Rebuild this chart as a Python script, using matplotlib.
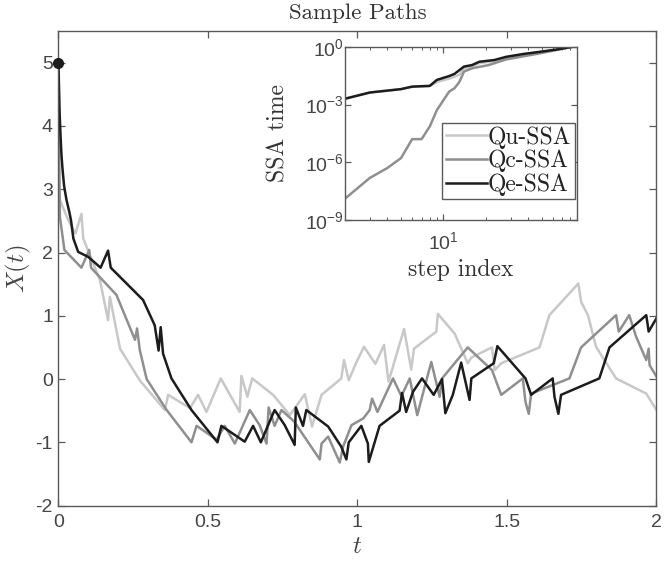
import matplotlib
matplotlib.use('Agg')
import matplotlib.pyplot as plt

plt.rcParams['font.family'] = 'Liberation Sans'
plt.rcParams['mathtext.fontset'] = 'cm'
plt.rcParams['axes.unicode_minus'] = False

# main panel: sample paths X(t)
t_qu = [0, 0.002, 0.005, 0.033, 0.057, 0.077, 0.083, 0.139, 0.166, 0.172, 0.206, 0.272,
        0.356, 0.367, 0.44, 0.467, 0.495, 0.543, 0.606, 0.612, 0.632, 0.648, 0.718, 0.774,
        0.824, 0.848, 0.88, 0.946, 0.955, 0.971, 0.995, 1.022, 1.06, 1.089, 1.104, 1.156,
        1.18, 1.189, 1.264, 1.269, 1.325, 1.369, 1.381, 1.45, 1.459, 1.481, 1.609, 1.642,
        1.739, 1.748, 1.771, 1.798, 1.865, 1.966, 2.0]
x_qu = [5.0, 3.6, 2.83, 2.51, 2.3, 2.61, 2.22, 1.56, 0.93, 1.3, 0.48, -0.02,
        -0.49, -0.25, -0.46, -0.25, -0.52, 0.01, -0.52, 0.05, -0.28, 0.01, -0.25, -0.57,
        -0.24, -0.75, -0.25, 0.01, 0.3, -0.02, 0.25, 0.51, 0.24, 0.54, -0.04, 0.79,
        0.15, 0.48, 0.75, 1.03, 0.72, 0.25, 0.34, 0.5, 0.14, 0.25, 0.5, 1.01,
        1.51, 1.22, 1.01, 0.51, 0.01, -0.23, -0.49]

t_qc = [0, 0.002, 0.005, 0.02, 0.077, 0.103, 0.109, 0.194, 0.256, 0.263, 0.272, 0.295,
        0.362, 0.445, 0.462, 0.49, 0.529, 0.556, 0.59, 0.64, 0.673, 0.696, 0.703, 0.723,
        0.746, 0.788, 0.874, 0.88, 0.902, 0.941, 0.952, 0.98, 1.02, 1.041, 1.049, 1.067,
        1.119, 1.147, 1.175, 1.2, 1.247, 1.275, 1.283, 1.369, 1.45, 1.481, 1.553, 1.562,
        1.573, 1.581, 1.709, 1.748, 1.865, 1.874, 1.909, 1.932, 1.966, 1.974, 1.977, 2.0]
x_qc = [5.0, 3.5, 2.56, 2.04, 1.76, 2.04, 1.76, 1.33, 0.62, 0.8, 0.46, 0.0,
        -0.49, -1.0, -0.74, -0.83, -0.96, -0.74, -1.02, -0.49, -0.73, -1.02, -0.45, -0.74,
        -0.49, -0.67, -1.27, -1.02, -0.91, -1.32, -1.07, -0.73, -0.62, -0.49, -0.31, -0.52,
        0.01, -0.27, 0.01, -0.57, 0.27, -0.28, 0.01, 0.5, 0.14, -0.25, 0.01, -0.36,
        -0.55, -0.23, 0.01, 0.5, 1.01, 0.75, 1.01, 0.67, 0.3, 0.48, 0.22, 0.04]

t_qe = [0, 0.002, 0.004, 0.007, 0.01, 0.014, 0.019, 0.027, 0.036, 0.042, 0.05, 0.066,
        0.10, 0.141, 0.166, 0.175,
        0.211, 0.283, 0.322, 0.335, 0.342, 0.35, 0.378, 0.445, 0.532, 0.545, 0.623, 0.651,
        0.677, 0.723, 0.757, 0.79, 0.794, 0.818, 0.829, 0.902, 0.946, 0.963, 0.971, 1.013,
        1.035, 1.038, 1.074, 1.141, 1.149, 1.163, 1.186, 1.216, 1.255, 1.283, 1.294, 1.319,
        1.347, 1.375, 1.381, 1.456, 1.468, 1.562, 1.581, 1.653, 1.659, 1.672, 1.681, 1.809,
        1.843, 1.966, 1.974, 2.0]
x_qe = [5.0, 4.6, 4.2, 3.85, 3.55, 3.3, 3.05, 2.83, 2.65, 2.51, 2.22, 2.01,
        1.93, 1.76, 2.03, 1.76,
        1.59, 1.25, 0.85, 0.45, 0.82, 0.4, 0.01, -0.49, -1.0, -0.74, -0.99, -0.74,
        -1.0, -0.49, -0.73, -1.04, -0.45, -0.74, -0.49, -0.75, -1.07, -1.27, -1.0, -0.74,
        -1.02, -1.31, -0.74, -0.5, -0.22, -0.52, -0.2, 0.01, -0.25, 0.0, -0.54, -0.25,
        0.26, -0.33, 0.01, 0.25, 0.52, 0.01, -0.25, 0.01, -0.28, -0.55, -0.25, 0.01,
        0.5, 1.01, 0.75, 0.96]

# inset: SSA time vs step index
step_qu = [2, 3, 5, 6, 8, 9, 11, 12, 13, 14, 16, 18, 23, 28, 37, 49, 64, 83]
time_qu = [2.0e-3, 4.2e-3, 6.3e-3, 8.3e-3, 9.0e-3, 1.5e-2, 2.2e-2, 2.8e-2, 3.5e-2,
           7.5e-2, 0.095, 0.14, 0.18, 0.26, 0.38, 0.52, 0.70, 1.0]
step_qc = [2, 3, 4, 5, 6, 7, 8, 9, 11, 12, 13, 14, 16, 21, 28, 49, 83]
time_qc = [1.3e-8, 1.55e-7, 5.1e-7, 1.66e-6, 1.6e-5, 1.6e-5, 7.2e-5, 5.2e-4, 4.7e-3,
           7.0e-3, 1.5e-2, 5.1e-2, 7.6e-2, 0.112, 0.22, 0.46, 1.0]
step_qe = [2, 3, 5, 6, 8, 9, 11, 12, 14, 16, 18, 23, 28, 37, 49, 64, 83]
time_qe = [2.0e-3, 4.2e-3, 6.3e-3, 8.5e-3, 9.3e-3, 1.9e-2, 3.0e-2, 3.9e-2, 9.3e-2,
           0.112, 0.166, 0.204, 0.30, 0.42, 0.55, 0.72, 1.0]

labels = ['Qu-SSA', 'Qc-SSA', 'Qe-SSA']
colors = ['#c8c8c8', '#8f8f8f', '#1c1c1c']
axcol = '#5a5a5a'
txtcol = '#454545'

fig = plt.figure(figsize=(6.64, 5.63), dpi=100)
ax = fig.add_axes([0.088, 0.102, 0.9006, 0.8428])

ax.plot(t_qu, x_qu, color=colors[0], lw=1.8)
ax.plot(t_qc, x_qc, color=colors[1], lw=1.8)
ax.plot(t_qe, x_qe, color=colors[2], lw=1.8)
ax.plot([t_qe[0]], [x_qe[0]], 'o', color=colors[2], ms=7, clip_on=False, zorder=5)

ax.set_xlim(0, 2)
ax.set_ylim(-2, 5.5)
ax.set_xticks([0, 0.5, 1, 1.5, 2])
ax.set_xticklabels(['0', '0.5', '1', '1.5', '2'])
ax.set_yticks([-2, -1, 0, 1, 2, 3, 4, 5])
for s in ax.spines.values():
    s.set_color(axcol)
    s.set_linewidth(1.0)
ax.tick_params(direction='in', top=True, right=True, length=5, width=0.9,
               colors=axcol, labelcolor=txtcol, labelsize=14)
ax.tick_params(axis='x', pad=6)
ax.tick_params(axis='y', pad=4)
ax.set_xlabel('$t$', fontsize=18, color=txtcol, labelpad=2)
ax.set_ylabel('$X(t)$', fontsize=18, color=txtcol, labelpad=2)
ax.set_title('Sample Paths', fontfamily='cmr10', fontsize=16.5, color='#333333', pad=9)

# inset
ins = fig.add_axes([0.5196, 0.609, 0.349, 0.308])
ins.plot(step_qu, time_qu, color=colors[0], lw=1.8, label=labels[0])
ins.plot(step_qc, time_qc, color=colors[1], lw=1.8, label=labels[1])
ins.plot(step_qe, time_qe, color=colors[2], lw=1.8, label=labels[2])
ins.set_xscale('log')
ins.set_yscale('log')
ins.set_xlim(2, 88.7)
ins.set_ylim(1e-9, 1)
ins.set_yticks([1e-9, 1e-6, 1e-3, 1])
ins.yaxis.set_minor_locator(matplotlib.ticker.NullLocator())
ins.set_xticks([10])
for s in ins.spines.values():
    s.set_color(axcol)
    s.set_linewidth(1.0)
ins.tick_params(which='both', direction='in', top=True, right=True,
                colors=axcol, labelcolor=txtcol, labelsize=14)
ins.tick_params(which='major', length=4, width=0.9)
ins.tick_params(which='minor', length=2.5, width=0.7)
ins.tick_params(axis='x', which='major', pad=8)
ins.tick_params(axis='y', which='major', pad=1)
ins.set_xlabel('step index', fontfamily='cmr10', fontsize=17, color='#333333', labelpad=4)
ins.set_ylabel('SSA time', fontfamily='cmr10', fontsize=17, color='#333333', labelpad=11)
leg = ins.legend(loc='lower right', bbox_to_anchor=(0.993, 0.119), borderaxespad=0,
                 prop={'family': 'cmr10', 'size': 17}, handlelength=1.75,
                 handletextpad=0.05, labelspacing=0.05, borderpad=0.15,
                 fancybox=False, framealpha=1)
leg.get_frame().set_edgecolor(axcol)
leg.get_frame().set_linewidth(1.0)
for txt in leg.get_texts():
    txt.set_color('#222222')

fig.savefig('out.png', dpi=100)
